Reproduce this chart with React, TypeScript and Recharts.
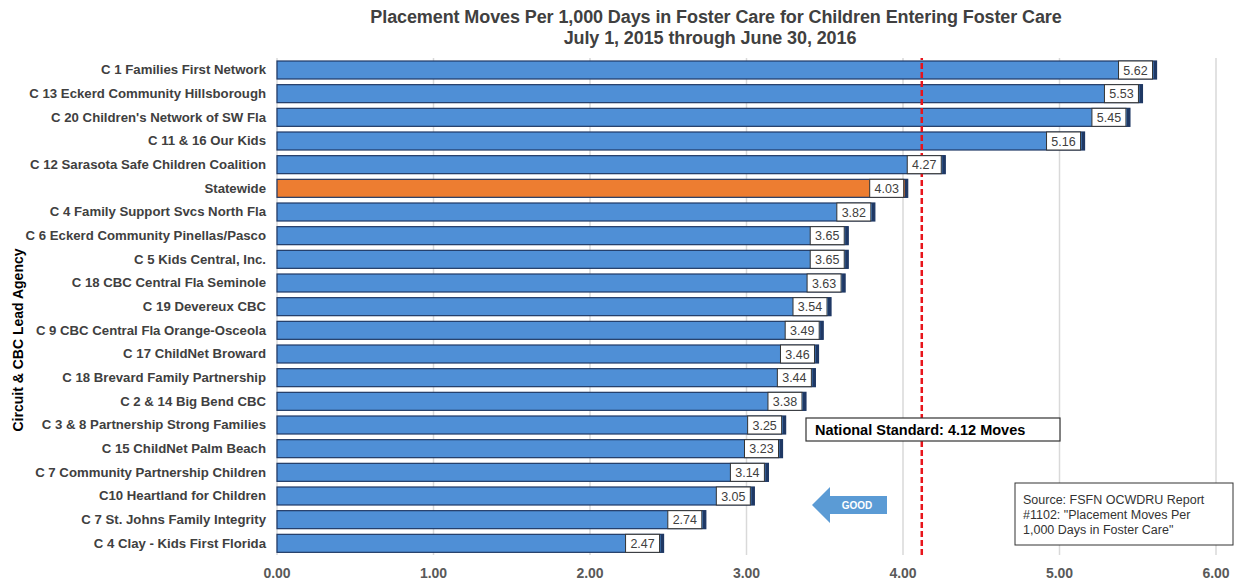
import React from "react";
import { BarChart, Bar, XAxis, YAxis, CartesianGrid, ReferenceLine, Cell, LabelList } from "recharts";

const agencies = [
  "C 1 Families First Network",
  "C 13 Eckerd Community Hillsborough",
  "C 20 Children's Network of SW Fla",
  "C 11 & 16 Our Kids",
  "C 12 Sarasota Safe Children Coalition",
  "Statewide",
  "C 4 Family Support Svcs North Fla",
  "C 6 Eckerd Community Pinellas/Pasco",
  "C 5 Kids Central, Inc.",
  "C 18 CBC Central Fla Seminole",
  "C 19 Devereux CBC",
  "C 9 CBC Central Fla Orange-Osceola",
  "C 17 ChildNet Broward",
  "C 18 Brevard Family Partnership",
  "C 2 & 14 Big Bend CBC",
  "C 3 & 8 Partnership Strong Families",
  "C 15 ChildNet Palm Beach",
  "C 7 Community Partnership Children",
  "C10 Heartland for Children",
  "C 7 St. Johns Family Integrity",
  "C 4 Clay - Kids First Florida",
];
const moves = [5.62, 5.53, 5.45, 5.16, 4.27, 4.03, 3.82, 3.65, 3.65, 3.63, 3.54, 3.49, 3.46, 3.44, 3.38, 3.25, 3.23, 3.14, 3.05, 2.74, 2.47];
const xTicks = [0, 1, 2, 3, 4, 5, 6];
const nationalStandard = 4.12;
const highlight = "Statewide";

const data = agencies.map((name, i) => ({ name, value: moves[i] }));

const FONT = "Arial, 'Liberation Sans', sans-serif";

const BarShape = (props: any) => {
  const { x, y, width, height, fill } = props;
  if (width <= 0) return null;
  return (
    <g>
      <rect x={x} y={y} width={width} height={height} fill={fill} stroke="#1F3864" strokeWidth={1.2} />
      <rect x={x + width - 3} y={y} width={3} height={height} fill="#1F3864" />
    </g>
  );
};

const ValueLabel = (props: any) => {
  const { x, y, width, height, value } = props;
  const w = 34;
  const h = 18;
  const bx = x + width - 4 - w;
  const by = y + (height - h) / 2;
  return (
    <g>
      <rect x={bx} y={by} width={w} height={h} fill="#ffffff" stroke="#333333" strokeWidth={1} />
      <text x={bx + w / 2} y={by + h / 2 + 4.5} textAnchor="middle" fontSize={12.5} fontFamily={FONT} fill="#404040">
        {Number(value).toFixed(2)}
      </text>
    </g>
  );
};

const CatTick = (props: any) => {
  const { x, y, payload } = props;
  return (
    <text x={x} y={y + 4.5} textAnchor="end" fontSize={13.2} fontWeight="bold" fontFamily={FONT} fill="#404040">
      {payload.value}
    </text>
  );
};

export default function App() {
  return (
    <div style={{ position: "absolute", left: 0, top: 0, width: 1242, height: 581, background: "#fff" }}>
      <BarChart
        width={1242}
        height={581}
        data={data}
        layout="vertical"
        margin={{ top: 58, right: 26, bottom: 0, left: 0 }}
        barSize={18}
      >
        <CartesianGrid horizontal={false} vertical={true} stroke="#d9d9d9" strokeWidth={1.5} />
        <XAxis
          type="number"
          domain={[0, 6]}
          ticks={xTicks}
          interval={0}
          height={26}
          tickFormatter={(v: number) => v.toFixed(2)}
          axisLine={false}
          tickLine={false}
          tick={{ fontSize: 14, fontWeight: "bold", fill: "#595959", fontFamily: FONT }}
          tickMargin={7}
        />
        <YAxis
          type="category"
          dataKey="name"
          width={277}
          axisLine={false}
          tickLine={false}
          tickMargin={5}
          interval={0}
          tick={<CatTick />}
        />
        <Bar dataKey="value" isAnimationActive={false} shape={<BarShape />} fill="#4F8FD6">
          {data.map((d) => (
            <Cell key={d.name} fill={d.name === highlight ? "#ED7D31" : "#4F8FD6"} />
          ))}
          <LabelList dataKey="value" content={<ValueLabel />} />
        </Bar>
        <ReferenceLine x={nationalStandard} stroke="#E8141B" strokeWidth={2.5} strokeDasharray="6 3" />
      </BarChart>
      <svg
        width={1242}
        height={581}
        style={{ position: "absolute", left: 0, top: 0, pointerEvents: "none" }}
      >
        <text x={716} y={23} textAnchor="middle" fontSize={18} fontWeight="bold" fontFamily={FONT} fill="#404040" letterSpacing={-0.1}>
          Placement Moves Per 1,000 Days in Foster Care for Children Entering Foster Care
        </text>
        <text x={710} y={44} textAnchor="middle" fontSize={18} fontWeight="bold" fontFamily={FONT} fill="#404040" letterSpacing={-0.1}>
          July 1, 2015 through June 30, 2016
        </text>
        <text
          x={23}
          y={340}
          transform="rotate(-90 23 340)"
          textAnchor="middle"
          fontSize={14}
          fontWeight="bold"
          fontFamily={FONT}
          fill="#000"
        >
          Circuit &amp; CBC Lead Agency
        </text>
        <rect x={806} y={418} width={254} height={23} fill="#fff" stroke="#333" strokeWidth={1.2} />
        <text x={815} y={435} fontSize={14.5} fontWeight="bold" fontFamily={FONT} fill="#000">
          National Standard: 4.12 Moves
        </text>
        <polygon points="812,505 830,487 830,496 887,496 887,514 830,514 830,523" fill="#5B9BD5" />
        <text x={857} y={509} textAnchor="middle" fontSize={10} fontWeight="bold" fontFamily={FONT} fill="#fff">
          GOOD
        </text>
        <rect x={1015} y={483} width={218} height={62} fill="#fff" stroke="#333" strokeWidth={1} />
        <text fontSize={12.5} fontFamily={FONT} fill="#333">
          <tspan x={1023} y={504}>Source:  FSFN OCWDRU Report</tspan>
          <tspan x={1023} y={519}>#1102: "Placement Moves Per</tspan>
          <tspan x={1023} y={534}>1,000 Days in Foster Care"</tspan>
        </text>
      </svg>
    </div>
  );
}
